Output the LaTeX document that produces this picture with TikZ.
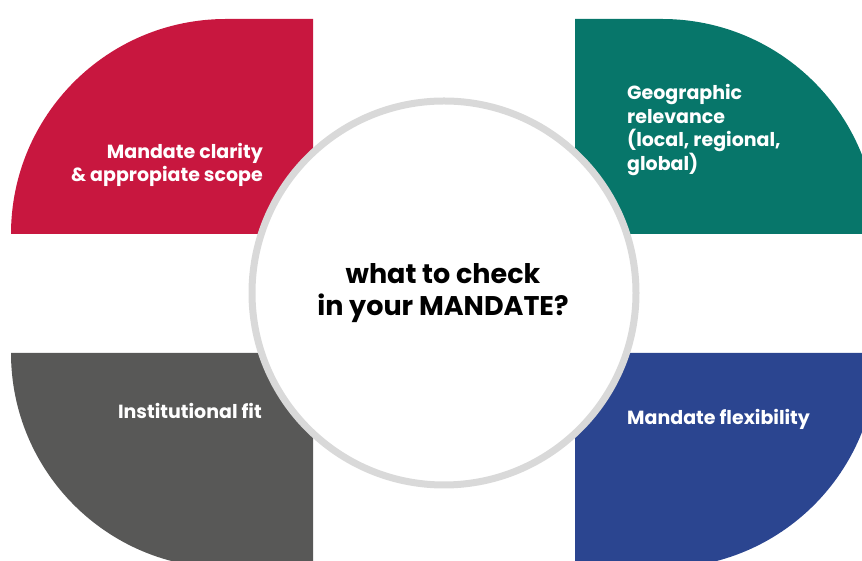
\documentclass[tikz,border=0pt]{standalone}
\usepackage{fontspec}
\setmainfont{Poppins}
\definecolor{clarityred}{HTML}{C8173F}
\definecolor{geogreen}{HTML}{07766A}
\definecolor{fitgray}{HTML}{585857}
\definecolor{flexblue}{HTML}{2B4590}
\definecolor{ringgray}{HTML}{D9D9D9}

\begin{document}
\begin{tikzpicture}[
  x=1pt, y=1pt,
  quartertext/.style={text=white, font=\bfseries\fontsize{19}{23.5}\selectfont, inner sep=0pt},
  hubtext/.style={text=black, font=\bfseries\fontsize{27}{32}\selectfont, inner sep=0pt, align=center}
]
\useasboundingbox (0,0) rectangle (862,561);
\clip (0,0) rectangle (862,561);

% Quarter shapes
\fill[clarityred] (11,327) arc[start angle=180, end angle=90, radius=215] -- (313,542) -- (313,327) -- cycle;
\fill[geogreen] (575,327) -- (575,542) -- (662,542) arc[start angle=90, end angle=0, radius=215] -- cycle;
\fill[fitgray] (313,208) -- (11,208) arc[start angle=180, end angle=270, radius=215] -- (313,-7) -- cycle;
\fill[flexblue] (575,208) -- (877,208) arc[start angle=0, end angle=-90, radius=215] -- (575,-7) -- cycle;

% Centre ring
\filldraw[fill=white, draw=ringgray, line width=7pt] (444,268) circle[radius=192];

% Labels
\node[quartertext, align=right, anchor=east] (clarity) at (263,396) {Mandate clarity\\\& appropiate scope};
\node[quartertext, align=left, anchor=west] (geo) at (627,431) {Geographic\\relevance\\(local, regional,\\global)};
\node[quartertext, anchor=base east] (fit) at (262,142) {Institutional fit};
\node[quartertext, anchor=base west] (flex) at (627,136) {Mandate flexibility};
\node[hubtext] (hub) at (443,268) {what to check\\in your MANDATE?};

\end{tikzpicture}
\end{document}
